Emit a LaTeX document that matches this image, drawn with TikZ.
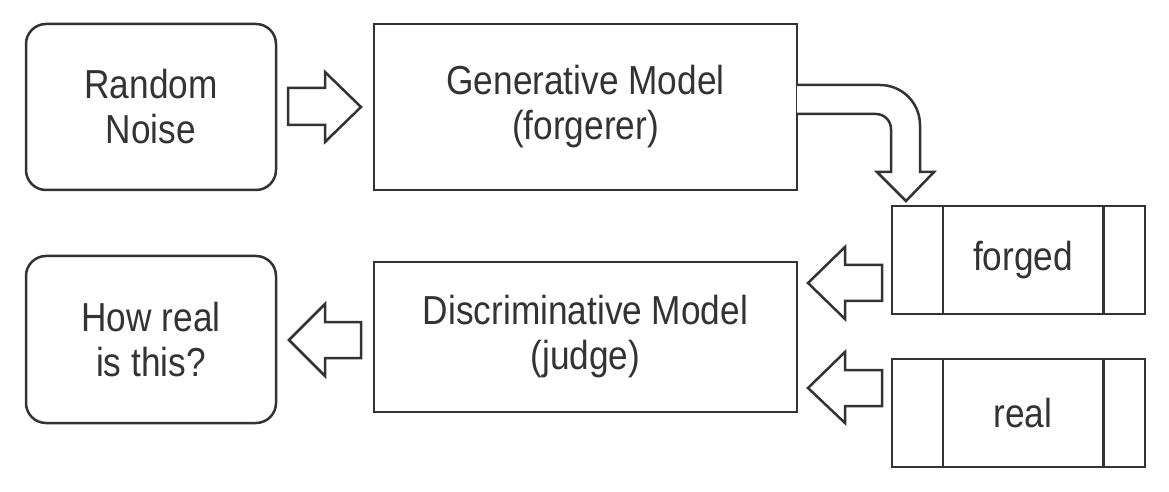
\documentclass[tikz,border=0pt]{standalone}
\usepackage{fontspec}
\setmainfont{Liberation Sans}[FakeStretch=0.87]
\definecolor{ink}{HTML}{333333}
\begin{document}
\begin{tikzpicture}[x=0.5pt,y=-0.5pt,
  box/.style={draw=ink,line width=1.25pt,inner sep=0pt,align=center,text=ink,
    font=\fontsize{20.25pt}{22.5pt}\selectfont},
  rbox/.style={box,rounded corners=10pt},
  blk/.style={draw=ink,line width=1.25pt,line join=miter,fill=white}]
\useasboundingbox (0,0) rectangle (1169,492);
% boxes
\node[rbox,minimum width=125pt,minimum height=83pt] (noise) at (151,107) {Random\\Noise};
\node[box,minimum width=211.5pt,minimum height=83pt] (gen) at (585.5,107) {Generative Model\\(forgerer)};
\node[box,minimum width=211.5pt,minimum height=75pt] (disc) at (585.5,337) {Discriminative Model\\(judge)};
\node[rbox,minimum width=125pt,minimum height=83.5pt] (how) at (151,339.5) {How real\\is this?};
\node[box,minimum width=126.5pt,minimum height=54pt] (forged) at (1018.5,260) {\hspace*{4.5pt}forged};
\node[box,minimum width=126.5pt,minimum height=54pt] (real) at (1018.5,413) {\hspace*{4.5pt}real};
% dividers
\foreach \n in {forged,real}{
  \draw[ink,line width=1.25pt] ([xshift=26pt]\n.north west) -- ([xshift=26pt]\n.south west);
  \draw[ink,line width=1.25pt] ([xshift=-21.5pt]\n.north east) -- ([xshift=-21.5pt]\n.south east);
}
% right arrow noise -> gen
\draw[blk] (288,88) -- (325,88) -- (325,72) -- (361,107) -- (325,142) -- (325,125) -- (288,125) -- cycle;
% curved arrow gen -> forged
\draw[blk] (797,85) -- (880,85) arc[start angle=90,end angle=0,radius=20pt]
  -- (920,172) -- (934,172) -- (906,201) -- (877,172) -- (891,172) -- (891,129)
  arc[start angle=0,end angle=90,radius=7.5pt] -- (797,114);
% forged -> disc
\draw[blk] (882,265) -- (845,265) -- (845,247) -- (808,283) -- (845,319) -- (845,301) -- (882,301) -- cycle;
% real -> disc
\draw[blk] (882,370) -- (845,370) -- (845,352) -- (808,388) -- (845,423) -- (845,406) -- (882,406) -- cycle;
% disc -> how
\draw[blk] (361,322) -- (325,322) -- (325,304) -- (289,340) -- (325,376) -- (325,358) -- (361,358) -- cycle;
\end{tikzpicture}
\end{document}
